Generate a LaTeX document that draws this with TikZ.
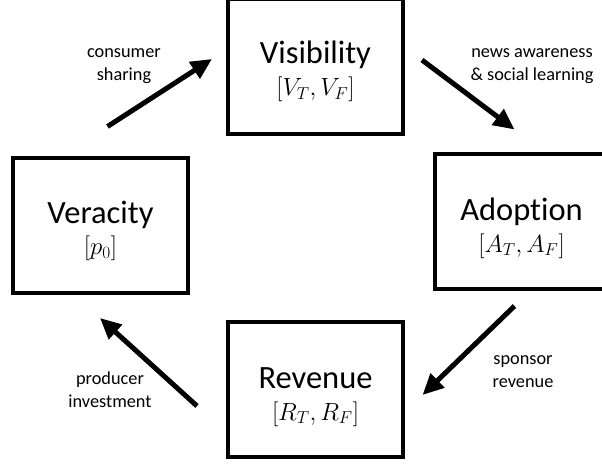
\documentclass[tikz,border=0pt]{standalone}
\usepackage{fontspec}
\setmainfont{Carlito}[Ligatures=NoCommon]
\usetikzlibrary{arrows.meta}
\begin{document}
\begin{tikzpicture}[x=1pt,y=-1pt,
  stage/.style={draw=black, line width=4pt, minimum width=175pt,
    minimum height=135pt, inner sep=0pt, outer sep=0pt},
  stagetitle/.style={anchor=base, inner sep=0pt,
    font=\fontsize{32.5}{36}\selectfont},
  stagevar/.style={anchor=base, inner sep=0pt,
    font=\fontsize{24}{28}\selectfont},
  flow/.style={line width=5pt, -{Triangle[length=21pt,width=19pt]}},
  flowlabel/.style={anchor=base, align=center, inner sep=0pt,
    font=\fontsize{18.3}{23}\selectfont}
]
\useasboundingbox (0,0) rectangle (602,464);

% the four stages of the cycle
\node[stage] (vis) at (315.5,66.5) {};
\node[stage] (adp) at (522.5,221.5) {};
\node[stage] (rev) at (315.5,389.5) {};
\node[stage] (ver) at (100.5,225.5) {};

\node[stagetitle] (vistitle) at (315.5,63.5) {Visibility};
\node[stagevar]   (visvar)   at (315.5,95.5) {$[V_T,V_F]$};
\node[stagetitle] (adptitle) at (521.5,220) {Adoption};
\node[stagevar]   (adpvar)   at (521.5,252) {$[A_T,A_F]$};
\node[stagetitle] (revtitle) at (315.5,388) {Revenue};
\node[stagevar]   (revvar)   at (315.5,420) {$[R_T,R_F]$};
\node[stagetitle] (vertitle) at (100.5,223) {Veracity};
\node[stagevar]   (vervar)   at (100.5,254.5) {$[p_0]$};

% end points of the flows between stages
\coordinate (cs-a) at (107.5,126.5);
\coordinate (cs-b) at (212,59);
\coordinate (na-a) at (422,60);
\coordinate (na-b) at (514.5,129.5);
\coordinate (sr-a) at (514.5,306);
\coordinate (sr-b) at (422.5,395);
\coordinate (pi-a) at (197,406);
\coordinate (pi-b) at (100,318);

\draw[flow] (cs-a) -- (cs-b);
\draw[flow] (na-a) -- (na-b);
\draw[flow] (sr-a) -- (sr-b);
\draw[flow] (pi-a) -- (pi-b);

% labels are placed by the baseline of their last line
\node[flowlabel] (cslabel) at (124,80.5) {consumer\\sharing};
\node[flowlabel] (nalabel) at (532,80) {news awareness\\\& social learning};
\node[flowlabel] (srlabel) at (523,387) {sponsor\\revenue};
\node[flowlabel] (pilabel) at (110,407) {producer\\investment};
\end{tikzpicture}
\end{document}
